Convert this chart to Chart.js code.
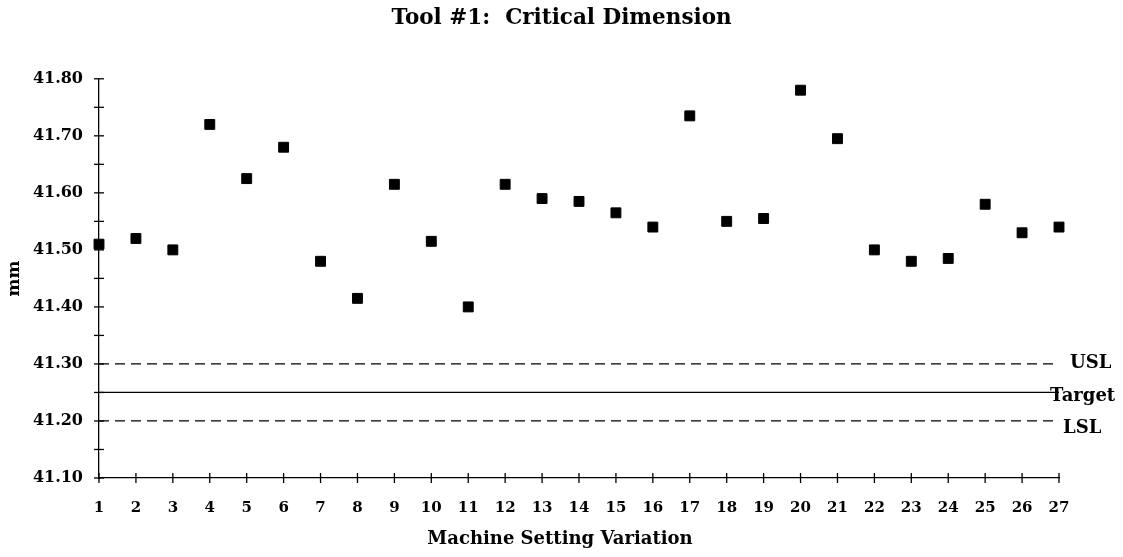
<!DOCTYPE html>
<html lang="en">
<head>
<meta charset="UTF-8">
<title>Tool #1: Critical Dimension</title>
<style>
  html, body { margin: 0; padding: 0; background: #fff; }
  .chartBox { width: 1123px; height: 557px; }
</style>
</head>
<body>
<div class="chartBox"><canvas id="myChart"></canvas></div>

<script src="https://cdn.jsdelivr.net/npm/chart.js"></script>
<script>
// machine setting variation (x) and measured critical dimension in mm (y)
const settings = [1, 2, 3, 4, 5, 6, 7, 8, 9, 10, 11, 12, 13, 14, 15, 16, 17, 18, 19, 20, 21, 22, 23, 24, 25, 26, 27];
const criticalDim = [41.51, 41.52, 41.50, 41.72, 41.625, 41.68, 41.48, 41.415, 41.615, 41.515, 41.40, 41.615, 41.59,
  41.585, 41.565, 41.54, 41.735, 41.55, 41.555, 41.78, 41.695, 41.50, 41.48, 41.485, 41.58, 41.53, 41.54];

// spec limits
const limitNames = ['USL', 'Target', 'LSL'];
const limitValues = [41.30, 41.25, 41.20];

// y axis
const yMin = 41.10;
const yMax = 41.80;
const yMinorStep = 0.05;

const xTitle = 'Machine Setting Variation';
const serif = "'DejaVu Serif', 'Liberation Serif', serif";

function limitLine(i, dashed) {
  return {
    type: 'line',
    label: limitNames[i],
    data: [{ x: settings[0], y: limitValues[i] }, { x: settings[settings.length - 1], y: limitValues[i] }],
    borderColor: '#000',
    borderWidth: 1.3,
    borderDash: dashed ? [10, 6] : [],
    pointRadius: 0,
    fill: false
  };
}

// ticks crossing the axis lines, limit labels on the right, x axis title
const crossTicks = {
  id: 'crossTicks',
  afterDraw(chart) {
    const ctx = chart.ctx;
    const xs = chart.scales.x;
    const ys = chart.scales.y;
    ctx.save();
    ctx.strokeStyle = '#000';
    ctx.lineWidth = 1.3;
    ys.ticks.forEach(t => {
      const y = ys.getPixelForValue(t.value);
      ctx.beginPath();
      ctx.moveTo(xs.left - 5, y);
      ctx.lineTo(xs.left + 5, y);
      ctx.stroke();
    });
    xs.ticks.forEach(t => {
      const x = xs.getPixelForValue(t.value);
      ctx.beginPath();
      ctx.moveTo(x, ys.bottom - 5);
      ctx.lineTo(x, ys.bottom + 5);
      ctx.stroke();
    });

    ctx.fillStyle = '#000';
    ctx.font = 'bold 18px ' + serif;
    ctx.textBaseline = 'middle';
    ctx.textAlign = 'left';
    const right = xs.getPixelForValue(settings[settings.length - 1]);
    const offX = [11, -9, 4];
    const offY = [-1, 4, 7];
    limitNames.forEach((name, i) => {
      ctx.fillText(name, right + offX[i], ys.getPixelForValue(limitValues[i]) + offY[i]);
    });

    ctx.textAlign = 'center';
    ctx.fillText(xTitle, (xs.left + xs.right) / 2 - 19, ys.bottom + 61);
    ctx.restore();
  }
};

const ctx = document.getElementById('myChart');

const Grafico = new Chart(ctx, {
  type: 'scatter',
  data: {
    datasets: [
      {
        label: 'Critical Dimension',
        data: settings.map((s, i) => ({ x: s, y: criticalDim[i] })),
        backgroundColor: '#000',
        borderColor: '#000',
        pointStyle: 'rect',
        pointRadius: 7,
        pointHoverRadius: 7,
        clip: false
      },
      limitLine(0, true),
      limitLine(1, false),
      limitLine(2, true)
    ]
  },
  plugins: [crossTicks],
  options: {
    responsive: true,
    maintainAspectRatio: false,
    animation: false,
    layout: { padding: { left: 0, right: 0, top: 0, bottom: 19 } },
    plugins: {
      legend: { display: false },
      tooltip: { enabled: false },
      title: {
        display: true,
        text: 'Tool #1:  Critical Dimension',
        color: '#000',
        font: { family: serif, size: 21.5, weight: 'bold' },
        padding: { top: 6, bottom: 47 }
      }
    },
    scales: {
      x: {
        type: 'linear',
        min: settings[0],
        max: settings[settings.length - 1],
        grid: { display: false, drawTicks: false },
        border: { display: true, color: '#000', width: 1.3 },
        afterFit: function (scale) { scale.paddingRight = 64; },
        ticks: {
          stepSize: 1,
          color: '#000',
          padding: 21,
          maxRotation: 0,
          autoSkip: false,
          font: { family: serif, size: 15, weight: 'bold' }
        }
      },
      y: {
        min: yMin,
        max: yMax,
        grid: { display: false, drawTicks: false },
        border: { display: true, color: '#000', width: 1.3 },
        afterFit: function (scale) { scale.width = 99; },
        ticks: {
          stepSize: yMinorStep,
          color: '#000',
          padding: 16,
          autoSkip: false,
          font: { family: serif, size: 16, weight: 'bold' },
          callback: function (v) {
            return Math.round(v * 100) % 10 === 0 ? Number(v).toFixed(2) : '';
          }
        },
        title: {
          display: true,
          text: 'mm',
          color: '#000',
          font: { family: serif, size: 17, weight: 'bold' },
          padding: { top: 4, bottom: 4 }
        }
      }
    }
  }
});
</script>
</body>
</html>
